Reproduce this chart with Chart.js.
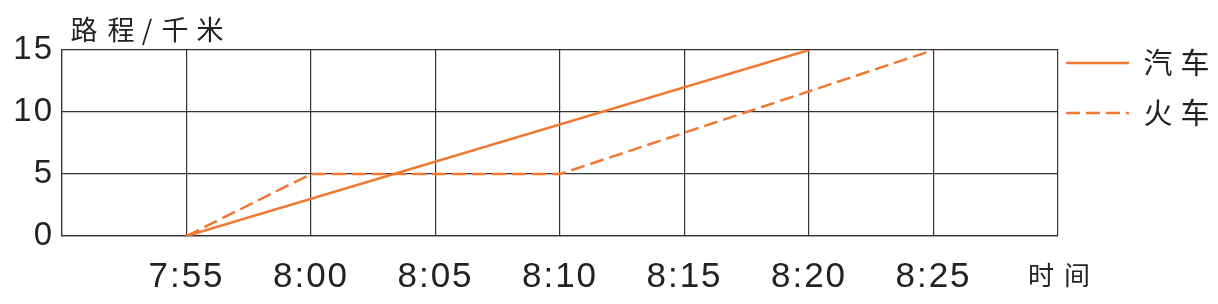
<!DOCTYPE html>
<html>
<head>
<meta charset="utf-8">
<script src="https://cdn.jsdelivr.net/npm/chart.js@4"></script>
<style>
  html, body { margin: 0; padding: 0; background: #fff; }
  #wrap { width: 1218px; height: 304px; }
</style>
</head>
<body>
<div id="wrap"><canvas id="chart" width="1218" height="304"></canvas></div>
<script>
  // x positions: 0 = 7:50 ... 8 = 8:30 (5 minute steps)
  const timeLabels = ["", "7:55", "8:00", "8:05", "8:10", "8:15", "8:20", "8:25", ""];
  const yTicks = [0, 5, 10, 15];
  const carX = [1, 6];
  const carY = [0, 15];
  const trainX = [1, 2, 4, 7];
  const trainY = [0, 5, 5, 15];
  const seriesNames = ["汽车", "火车"];

  const orange = "#f07833";
  const cjk = "'Noto Sans CJK SC', sans-serif";
  const latin = "'Liberation Sans', Arial, sans-serif";

  const toPoints = (xs, ys) => xs.map((x, i) => ({ x, y: ys[i] }));

  const extras = {
    id: "extras",
    beforeDraw(chart) {
      // the printed digits are spaced out a little
      chart.ctx.letterSpacing = "2px";
    },
    afterDraw(chart) {
      const ctx = chart.ctx;
      ctx.save();
      ctx.letterSpacing = "0px";
      ctx.fillStyle = "#222";
      ctx.textBaseline = "middle";
      ctx.textAlign = "center";
      ctx.font = "27px " + cjk;
      // axis titles, drawn char by char for the wide spacing
      const title = ["路", "程", "/", "千", "米"];
      const tx = [84, 121, 147, 175, 210];
      title.forEach((c, i) => ctx.fillText(c, tx[i], 30));
      ctx.font = "26px " + cjk;
      ctx.fillText("时", chart.chartArea.right - 17, 275);
      ctx.fillText("间", chart.chartArea.right + 19, 275);

      // legend
      const rows = [63, 113];
      chart.data.datasets.forEach((ds, i) => {
        ctx.strokeStyle = ds.borderColor;
        ctx.lineWidth = ds.borderWidth;
        ctx.setLineDash(ds.borderDash || []);
        ctx.beginPath();
        ctx.moveTo(1066, rows[i]);
        ctx.lineTo(1129, rows[i]);
        ctx.stroke();
        ctx.setLineDash([]);
        ctx.font = "29px " + cjk;
        ctx.fillStyle = "#222";
        ctx.fillText(ds.label[0], 1158, rows[i]);
        ctx.fillText(ds.label[1], 1195, rows[i]);
      });
      ctx.restore();
    }
  };

  new Chart(document.getElementById("chart"), {
    type: "line",
    data: {
      datasets: [
        {
          label: seriesNames[0],
          data: toPoints(carX, carY),
          borderColor: orange,
          borderWidth: 2.5,
          pointRadius: 0,
          tension: 0
        },
        {
          label: seriesNames[1],
          data: toPoints(trainX, trainY),
          borderColor: orange,
          borderWidth: 2.5,
          borderDash: [14, 6],
          pointRadius: 0,
          tension: 0
        }
      ]
    },
    options: {
      responsive: false,
      animation: false,
      events: [],
      layout: { padding: { top: 50, right: 160, left: 0, bottom: 0 } },
      plugins: { legend: { display: false }, tooltip: { enabled: false } },
      scales: {
        x: {
          type: "linear",
          min: 0,
          max: timeLabels.length - 1,
          afterFit: s => { s.height = 68; },
          afterBuildTicks: s => { s.ticks = timeLabels.map((_, i) => ({ value: i })); },
          ticks: {
            autoSkip: false,
            maxRotation: 0,
            padding: 20,
            color: "#222",
            font: { family: latin, size: 35 },
            callback: v => timeLabels[v]
          },
          grid: { color: "#333", lineWidth: 1.2, drawTicks: false },
          border: { color: "#333", width: 1.2 }
        },
        y: {
          min: 0,
          max: 15,
          afterFit: s => { s.width = 62; },
          afterBuildTicks: s => { s.ticks = yTicks.map(v => ({ value: v })); },
          ticks: {
            padding: 8,
            color: "#222",
            font: { family: latin, size: 33 }
          },
          grid: { color: "#333", lineWidth: 1.2, drawTicks: false },
          border: { color: "#333", width: 1.2 }
        }
      }
    },
    plugins: [extras]
  });
</script>
</body>
</html>
